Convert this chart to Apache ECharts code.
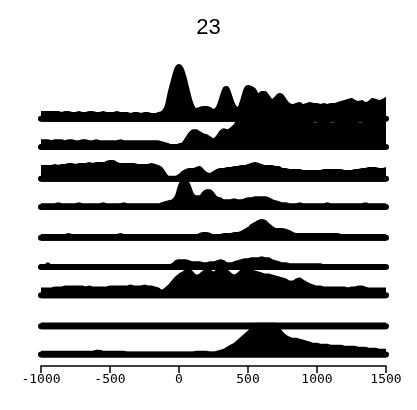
<!DOCTYPE html>
<html><head><meta charset="utf-8">
<script src="https://cdn.jsdelivr.net/npm/echarts@6/dist/echarts.min.js"></script>
<style>html,body{margin:0;padding:0;background:#fff}#c{width:417px;height:410px}</style>
</head><body><div id="c"></div>
<script>
const chartTitle = "23";
const xStart = -1000, xStep = 25;
const xTicks = [-1000, -500, 0, 500, 1000, 1500];

const t1 = [10,10,10,10,10,10,9,10,10,9, 9,10,9,9,10,10,9,9,10,9, 9,9,10,9,9,9,8,9,9,8, 9,9,8,8,9,
  10,15,30,43,54,57,54,44,30,18,13, 14,15,15,14,
  12,15,25,34,35,28,18,14,22,33,36,35,33,28,30,30,26,22,25,28,27,22,18,
  17,18,19,17,18,19,18, 18,17,18,17,18,18,19,20,21,22, 23,21,20,21,19,20,23,22,21,22,24];
const t2 = [10,10,10,9,10,10,10,9,10,10, 9,9,10,10,9,9,10,9,9,9, 9,9,9,10,9,9,9,9,9,9, 9,9,9,9,9,
  8,7,6,5,5,6,7,12,17,20,20,18,16,15,13,11,14,19,21,20,22,25,30,
  30,30,30,30,30,30,30,30,30,30,30,30,30,30,30,30,30,30,30,30,
  30,27,27, 30,30,30, 27,27,30, 30,30,30,30,30, 27,27,30, 30,30,30,30,30,30];
const t3 = [16,16,16,16,17,16,17,17,18,18, 17,18,18,18,19,18,19,19,19,20, 21,21,19,18,18,18,18,18,17,17, 17,17,18,17,16,
  14,9,5,5,5,7,10,12,13,13,14,15,12,9,8,10,12,13,13,14,14,15,15,16,16,17,18,19,18,17,16,16,16,15,15,13,13,12,
  12,12,12,11,11,11,11,11,11,12,12,12,12,12,12,11,11,11,12,12,
  13,13,14,14,14,13,13,14];
const t4 = [6,6,6,6,6,7,6,6,6,6, 6,7,6,6,6,6,6,6,7,6, 6,6,6,6,7,6,6,6,6,6, 6,6,6,6,6,
  7,8,9,10,14,25,30,30,26,17,14,14,18,20,20,17,13,12,
  10,10,10,11,10,10,11, 12,12,13,13,13,13,12, 10,9,8,7,
  7,6,6,6,7,6,6,6,6,6, 6,6,7,6,6,6,6,6,6,6, 6,6,6,7,6,6,6,6,6,6];
const t5 = [6,6,6,6,6,6,6,6,7,6, 6,6,6,6,6,6,6,6,6,6, 6,6,6,7,6,6,6,6,6,6, 6,6,6,6,6,6,6,6,6,6, 6,6,6,6,6,6,
  7,8,8,7,6,6,6,7,7,7,8,8,9,11,13,16,18,20,21,20,17,14,12,12,12,11,10,8,
  7,7,7,7,7,7,7,7,7,7, 7,7,7,6,6,6,6,6,6,6, 6,6,6,6,6,6,6];
const t6 = [5,5,7, 5,5,5,5,5,5,5,5,5,5, 5,5,5,5,5,5,5,5,5,5, 5,5,5,5,5,5,5,5,5,5, 5,5,5,5,5,
  6,9,10,10,10,9,8,8,8,7,7,8,8,9,10,9,7,7,8,9,10,11,11,12,12,12,13,12,12,10,9,8,7,7,
  6,6,6,6,6,6,6,6,6,6, 5,5,5,5,5,5,5,5,5,5, 5,5,5,5,5,5,5,5,5];
const t7 = [10,10,10,10,11,11,11,12,12,12, 12,12,12,11,12,11,11,11,11,11, 12,12,12,12,12,12,13,12,12,12, 13,12,12,11,10,
  8,10,13,17,21,24,26,28,29,26,23,24,27,29,28,26,28,29,29,28,25,23,25,28,29,29,28,27,26,25,24,24,23,22,21,20,19,17,17,19,20,18,16,14,13,12,
  12,11,11,11,11,11,11,11,10,11,11,12,12,11,10,10,10,10,10,10];
const t8 = [6,6,6,6,6,6,6,6,6,6, 6,6,6,6,6,6,6,6,6,6, 6,6,6,6,6,6,6,6,6,6, 6,6,6,6,6,6,6,6,6,6,
  6,6,6,6,6,6,6,6,6,6, 6,6,6,6,6,6,6,6,6,6, 6,6,6,6,6,6,6,6,6,6, 6,6,6,6,6,6,6,6,6,6,
  6,6,6,6,6,6,6,6,6,6, 6,6,6,6,6,6,6,6,6,6, 6];
const t9 = [6,6,6,6,6,6,6,6,6,6, 6,6,6,6,6,6,7,7,6,6, 6,6,6,6,6,
  5,5,5,5,5,5,5,5,5,5,5,5,5,5,5,5,
  5,5,5,5,6,6,6,6,5,5,
  6,7,8,10,12,14,17,20,23,26,30,34,34,34,34,34,34,34,30,25,22,20,19,19,18,17,16,15,14,14,
  13,13,13,12,12,12,12,11,11,11,11,10,10,10,9,9,9,8,8,8];

const traces = [t1, t2, t3, t4, t5, t6, t7, t8, t9];

// layout (pixels)
const plotLeft = 41, plotWidth = 345, bandH = 60;
const traceBottoms = [121.7, 150, 181.7, 210, 240.7, 270, 298.3, 329.3, 357.5];
const axisY = 366;

const xs = t1.map((_, i) => xStart + i * xStep);

const grids = [], xAxes = [], yAxes = [], series = [];
traces.forEach((tr, k) => {
  grids.push({left: plotLeft, width: plotWidth, top: traceBottoms[k] - bandH, height: bandH});
  xAxes.push({type: 'value', gridIndex: k, min: xTicks[0], max: xTicks[xTicks.length-1], show: false});
  yAxes.push({type: 'value', gridIndex: k, min: 0, max: bandH, show: false});
  series.push({
    type: 'line', xAxisIndex: k, yAxisIndex: k, silent: true, clip: false,
    data: tr.map((v, i) => [xs[i], v]),
    showSymbol: false, smooth: 0.3,
    lineStyle: {color: '#000', width: 1.5, join: 'round'},
    areaStyle: {color: '#000', opacity: 1, origin: 'start'}
  });
  series.push({
    type: 'line', xAxisIndex: k, yAxisIndex: k, silent: true, clip: false,
    data: xs.map(x => [x, 3]),
    showSymbol: false,
    lineStyle: {color: '#000', width: 6, cap: 'round'}
  });
});
// axis grid
const ai = traces.length;
grids.push({left: plotLeft, width: plotWidth, top: axisY - 1, height: 1});
xAxes.push({
  type: 'value', gridIndex: ai, min: xTicks[0], max: xTicks[xTicks.length-1], interval: 500,
  axisLine: {show: true, lineStyle: {color: '#000', width: 1.5}},
  axisTick: {show: true, length: 7, lineStyle: {color: '#000', width: 1.5}},
  splitLine: {show: false},
  axisLabel: {margin: 7, color: '#000', fontSize: 13, fontFamily: 'DejaVu Sans Mono', formatter: v => String(v)}
});
yAxes.push({type: 'value', gridIndex: ai, show: false});

const chart = echarts.init(document.getElementById('c'), null, {renderer: 'canvas'});
chart.setOption({
  animation: false,
  backgroundColor: '#fff',
  title: {text: chartTitle, left: 'center', top: 12,
    textStyle: {fontFamily: 'Liberation Sans', fontSize: 22, fontWeight: 'normal', color: '#000'}},
  grid: grids, xAxis: xAxes, yAxis: yAxes, series: series
});
</script></body></html>
